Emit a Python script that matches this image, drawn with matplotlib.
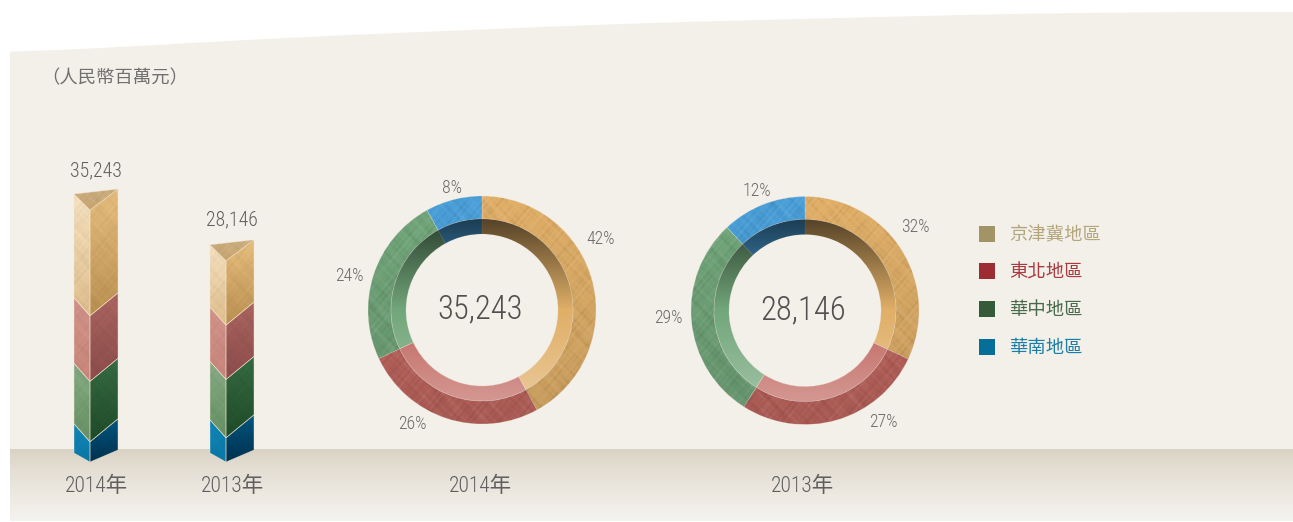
import numpy as np
import matplotlib
matplotlib.use("Agg")
import matplotlib.pyplot as plt
from matplotlib.patches import Polygon, Rectangle, Wedge

W, H = 1293, 522
BG = "#f3f0e9"
TEXT = "#5f5f5f"
NUM_FONT = ["Roboto Condensed", "Liberation Sans", "Noto Sans CJK TC"]
CJK_FONT = ["Noto Sans CJK TC", "DejaVu Sans"]

# data
years = ["2014年", "2013年"]
totals = [35243, 28146]
total_labels = ["35,243", "28,146"]
regions = ["京津冀地區", "東北地區", "華中地區", "華南地區"]
shares_2014 = [42, 26, 24, 8]
shares_2013 = [32, 27, 29, 12]
unit_label = "（人民幣百萬元）"

# colours, same order as regions
legend_colors = ["#a39468", "#9c2d32", "#345a39", "#066f99"]
legend_text_colors = ["#b3a57c", "#a83a40", "#47694c", "#1a7ea6"]
ring_colors = ["#e0af68", "#c0665f", "#72a67a", "#4a9fd8"]
left_top = ["#f2dfbd", "#cf9289", "#86a983", "#0f86b8"]
left_bot = ["#dcbb8a", "#c68479", "#648f62", "#0b76a3"]
right_top = ["#e4bc7c", "#a9645f", "#356a42", "#00567e"]
right_bot = ["#b98f50", "#8a4b49", "#1e4a27", "#003150"]

BAR_PX = 252 / 35243
BASE_Y = 462

WAVES = [(0.171, 0.143), (-0.267, 0.193), (0.333, -0.251), (0.407, 0.371), (-0.489, 0.447),
         (0.621, -0.533), (0.747, 0.689), (-0.853, 0.911), (1.031, 0.787), (-1.127, -0.973)]


def hex_rgb(c):
    return np.array(matplotlib.colors.to_rgb(c))


def mottle(h, w, phase=0.0):
    # soft paper-like texture, stacked sines at unrelated frequencies
    y, x = np.mgrid[0:h, 0:w]
    m = np.zeros((h, w))
    for k, (fx, fy) in enumerate(WAVES):
        m += np.sin(x * fx + y * fy + phase * (k + 1) + k * k)
    return m / 3.5


def gradient_poly(ax, pts, top, bot, phase=0.0, zorder=3):
    pts = np.array(pts, dtype=float)
    x0, y0 = pts.min(axis=0)
    x1, y1 = pts.max(axis=0)
    h, w = max(int(y1 - y0), 2), max(int(x1 - x0), 2)
    t = np.linspace(0, 1, h)[:, None, None]
    img = hex_rgb(top) * (1 - t) + hex_rgb(bot) * t
    img = img * np.ones((h, w, 3))
    img = np.clip(img * (1 + 0.022 * mottle(h, w, phase))[:, :, None], 0, 1)
    patch = Polygon(pts, closed=True, facecolor="none", edgecolor="#f4e6d2",
                    linewidth=0.5, alpha=0.6, zorder=zorder + 0.1)
    ax.add_patch(patch)
    im = ax.imshow(img, extent=(x0, x1, y1, y0), aspect="auto", zorder=zorder,
                   interpolation="bilinear")
    im.set_clip_path(Polygon(pts, closed=True, transform=ax.transData))


def draw_bar(ax, xf, total, shares, phase):
    xl, xr = xf - 16, xf + 28
    y = BASE_Y
    off = (9, 12)
    for i in range(len(shares) - 1, -1, -1):
        top_y = y - total * shares[i] / 100 * BAR_PX
        next_off = (18, 23) if i > 0 else (16, 21)
        gradient_poly(ax, [(xl, y - off[0]), (xf, y), (xf, top_y), (xl, top_y - next_off[0])],
                      left_top[i], left_bot[i], phase + i)
        gradient_poly(ax, [(xf, y), (xr, y - off[1]), (xr, top_y - next_off[1]), (xf, top_y)],
                      right_top[i], right_bot[i], phase + i + 0.5)
        y = top_y
        off = next_off
    gradient_poly(ax, [(xl, y - off[0]), (xr, y - off[1]), (xf, y)], "#c9ac7e", "#c9a671", phase, 4)


def overlay(a, rgba, radius, ring, zorder=3):
    im = a.imshow(rgba, extent=(-radius, radius, -radius, radius), origin="upper", aspect="auto",
                  zorder=zorder, interpolation="bilinear")
    im.set_clip_path(ring)


def draw_donut(fig, cx, cy, shares, phase):
    R = 120
    a = fig.add_axes([(cx - R) / W, 1 - (cy + R) / H, 2 * R / W, 2 * R / H])
    outer, mid, inner = 114, 91, 76
    line = (0.96, 0.91, 0.85, 0.45)
    a.pie(shares, colors=ring_colors, startangle=90, counterclock=False, radius=outer,
          wedgeprops=dict(width=outer - mid, edgecolor=line, linewidth=0.4))
    a.pie(shares, colors=ring_colors, startangle=90, counterclock=False, radius=mid,
          wedgeprops=dict(width=mid - inner, edgecolor=line, linewidth=0.4))

    # outer ring: slight darkening to the bottom, then the mottling
    n = 2 * outer
    ring = Wedge((0, 0), outer, 0, 360, width=outer - mid, transform=a.transData)
    t = np.linspace(0, 1, n)[:, None] * np.ones((n, n))
    shade = np.zeros((n, n, 4))
    shade[..., 3] = 0.12 * t
    overlay(a, shade, outer, ring)
    m = mottle(n, n, phase)
    rgba = np.zeros((n, n, 4))
    rgba[..., :3] = (m[..., None] > 0).astype(float)
    rgba[..., 3] = np.abs(m) * 0.05
    overlay(a, rgba, outer, ring, 3.1)

    # inner ring goes from shaded at the top to washed out at the bottom
    n = 2 * mid
    t = np.linspace(0, 1, n)[:, None] * np.ones((n, n))
    split = 0.5
    rgba = np.zeros((n, n, 4))
    rgba[..., :3] = (t[..., None] > split).astype(float)
    rgba[..., 3] = np.where(t <= split, 0.62 * (1 - t / split), 0.32 * (t - split) / (1 - split))
    ring = Wedge((0, 0), mid, 0, 360, width=mid - inner, transform=a.transData)
    overlay(a, rgba, mid, ring)

    a.set_xlim(-R, R)
    a.set_ylim(-R, R)
    a.set_aspect("equal")
    a.axis("off")


def main():
    fig = plt.figure(figsize=(W / 100, H / 100), dpi=100, facecolor="white")
    ax = fig.add_axes([0, 0, 1, 1])

    # panel with the curved top edge
    edge_x = np.linspace(10, W, 200)
    edge_y = np.interp(edge_x, [10, 300, 640, 1000, 1150, 1293], [53, 37, 23, 14, 12, 12])
    edge_y = np.convolve(np.pad(edge_y, 15, mode="edge"), np.ones(31) / 31, mode="valid")
    outline = list(zip(edge_x, edge_y)) + [(W, 521), (10, 521)]
    ax.add_patch(Polygon(outline, closed=True, facecolor=BG, edgecolor="none", zorder=1))

    # ground strip
    t = np.linspace(0, 1, 72)[:, None, None] ** 0.75
    ground = hex_rgb("#d9d1c2") * (1 - t) + hex_rgb("#f5f3ee") * t
    ax.imshow(ground, extent=(10, W, 521, 449), aspect="auto", zorder=2)

    ax.set_xlim(0, W)
    ax.set_ylim(H, 0)

    draw_bar(ax, 90, totals[0], shares_2014, 0.3)
    draw_bar(ax, 226, totals[1], shares_2013, 1.9)
    ax.set_xlim(0, W)
    ax.set_ylim(H, 0)
    ax.axis("off")

    draw_donut(fig, 482, 310, shares_2014, 0.8)
    draw_donut(fig, 805, 310.5, shares_2013, 2.4)

    def num(x, y, s, size, color=TEXT):
        ax.text(x, y, s, fontsize=size, color=color, family=NUM_FONT, weight="light",
                ha="center", va="center", zorder=6)

    ax.text(41, 78, unit_label, fontsize=13.2, color="#707070", family=CJK_FONT, weight="light",
            va="center", zorder=6)

    num(96, 171, total_labels[0], 14.2)
    num(232, 220, total_labels[1], 14.2)
    num(96, 486, years[0], 15.5)
    num(232, 486, years[1], 15.5)
    num(480, 486, years[0], 15.5)
    num(803, 486, years[1], 15.5)
    num(480, 309, total_labels[0], 23.5, "#505050")
    num(803, 310, total_labels[1], 23.5, "#505050")

    pct_pos_2014 = [(601, 239), (412, 424), (349, 276), (452, 188)]
    pct_pos_2013 = [(915, 227), (883, 422), (668, 318), (757, 191)]
    for shares, pos in ((shares_2014, pct_pos_2014), (shares_2013, pct_pos_2013)):
        for v, (x, y) in zip(shares, pos):
            num(x, y, f"{v}%", 12.8, "#6a6a6a")

    # legend
    for name, c, tc, y in zip(regions, legend_colors, legend_text_colors, [234, 271, 309, 347]):
        ax.add_patch(Rectangle((979, y - 8), 16, 16, facecolor=c, edgecolor="none", zorder=6))
        ax.text(1009, y + 1, name, fontsize=13.2, color=tc, family=CJK_FONT, va="center", zorder=6)

    fig.savefig("out.png", dpi=100, facecolor="white")


if __name__ == "__main__":
    main()
